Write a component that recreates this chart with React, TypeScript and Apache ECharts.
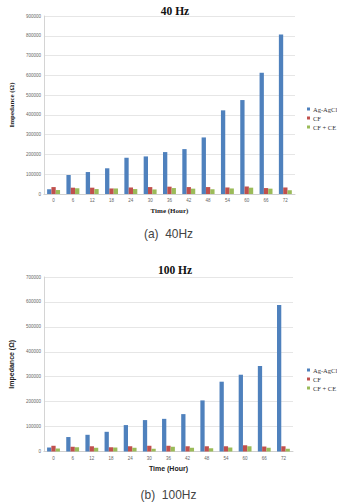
import React, { useEffect, useRef } from "react";
import * as echarts from "echarts";

const hours = ["0", "6", "12", "18", "24", "30", "36", "42", "48", "54", "60", "66", "72"];
const seriesNames = ["Ag-AgCl", "CF", "CF + CE"];
const colors = ["#4F81BD", "#C0504D", "#9BBB59"];

// 40 Hz impedance (Ω)
const agAgCl40 = [24000, 96000, 111000, 130000, 183000, 190000, 212000, 227000, 286000, 423000, 475000, 613000, 807000];
const cf40 = [35000, 32000, 32000, 28000, 33000, 35000, 37000, 35000, 35000, 33000, 38000, 30000, 33000];
const cfce40 = [20000, 29000, 25000, 28000, 25000, 23000, 30000, 27000, 24000, 28000, 32000, 27000, 19000];

// 100 Hz impedance (Ω)
const agAgCl100 = [16000, 58000, 67000, 79000, 106000, 126000, 131000, 150000, 205000, 280000, 308000, 343000, 588000];
const cf100 = [23000, 19000, 21000, 17000, 21000, 23000, 23000, 21000, 21000, 21000, 25000, 20000, 21000];
const cfce100 = [12000, 17000, 15000, 16000, 15000, 11000, 19000, 15000, 13000, 16000, 21000, 15000, 11000];

const serif = "Liberation Serif, Times New Roman, serif";
const sans = "Liberation Sans, Arial, sans-serif";

export default function App() {
  const ref = useRef<HTMLDivElement>(null);

  useEffect(() => {
    if (!ref.current) return;
    const chart = echarts.init(ref.current, null, { renderer: "svg" });

    const valueAxis = (gridIndex: number, max: number, font: string, nameGap: number) => ({
      type: "value" as const,
      gridIndex,
      min: 0,
      max,
      interval: 100000,
      name: "Impedance (Ω)",
      nameLocation: "middle" as const,
      nameRotate: 90,
      nameGap,
      nameTextStyle: { fontFamily: font, fontWeight: "bold" as const, fontSize: 7, color: "#222" },
      axisLine: { show: true, lineStyle: { color: "#d4d4d4", width: 1 } },
      axisTick: { show: false },
      axisLabel: {
        fontFamily: sans,
        fontSize: 4.5,
        color: "#666",
        margin: 3,
        formatter: (v: number) => String(v),
      },
      splitLine: { lineStyle: { color: "#e0e0e0", width: 0.8 } },
    });

    const categoryAxis = (gridIndex: number, font: string) => ({
      type: "category" as const,
      gridIndex,
      data: hours,
      name: "Time (Hour)",
      nameLocation: "middle" as const,
      nameGap: 13,
      nameTextStyle: { fontFamily: font, fontWeight: "bold" as const, fontSize: 7, color: "#222" },
      axisLine: { lineStyle: { color: "#d0d0d0", width: 1 } },
      axisTick: { show: false },
      axisLabel: { fontFamily: sans, fontSize: 4.5, color: "#666", margin: 4 },
    });

    const barSeries = (name: string, data: number[], idx: number, axis: number) => ({
      type: "bar" as const,
      name,
      data,
      xAxisIndex: axis,
      yAxisIndex: axis,
      barGap: "0%",
      barCategoryGap: "33%",
      itemStyle: { color: colors[idx] },
    });

    const legend = (top: number) => ({
      orient: "vertical" as const,
      left: 302,
      top,
      icon: "rect",
      itemWidth: 3,
      itemHeight: 3,
      itemGap: 1,
      data: seriesNames,
      textStyle: { fontFamily: serif, fontSize: 6.5, color: "#333", lineHeight: 8, padding: [0, 0, 0, -2] },
    });

    const caption = (text: string, top: number) => ({
      type: "text" as const,
      left: "center",
      top,
      scaleX: 0.92,
      originX: 170,
      style: {
        text,
        fontFamily: "Liberation Sans Narrow, Liberation Sans, Arial, sans-serif",
        fontSize: 13,
        fill: "#444",
      },
    });

    chart.setOption({
      animation: false,
      backgroundColor: "#ffffff",
      color: colors,
      title: [
        {
          text: "40 Hz",
          left: 170,
          top: 0,
          textAlign: "center",
          textStyle: { fontFamily: serif, fontWeight: "bold", fontSize: 11.5, color: "#111" },
        },
        {
          text: "100 Hz",
          left: 170,
          top: 259,
          textAlign: "center",
          textStyle: { fontFamily: serif, fontWeight: "bold", fontSize: 11.5, color: "#111" },
        },
      ],
      legend: [legend(100), legend(361)],
      grid: [
        { left: 34, top: 16, width: 261, height: 178 },
        { left: 43, top: 277, width: 250, height: 174.5 },
      ],
      xAxis: [categoryAxis(0, serif), categoryAxis(1, sans)],
      yAxis: [valueAxis(0, 900000, serif, 27), valueAxis(1, 700000, sans, 27)],
      series: [
        barSeries(seriesNames[0], agAgCl40, 0, 0),
        barSeries(seriesNames[1], cf40, 1, 0),
        barSeries(seriesNames[2], cfce40, 2, 0),
        barSeries(seriesNames[0], agAgCl100, 0, 1),
        barSeries(seriesNames[1], cf100, 1, 1),
        barSeries(seriesNames[2], cfce100, 2, 1),
      ],
      graphic: [caption("(a)  40Hz", 227), caption("(b)  100Hz", 488)],
    });

    return () => chart.dispose();
  }, []);

  return (
    <div
      ref={ref}
      style={{ position: "absolute", left: 0, top: 0, width: 337, height: 502, background: "#fff" }}
    />
  );
}
